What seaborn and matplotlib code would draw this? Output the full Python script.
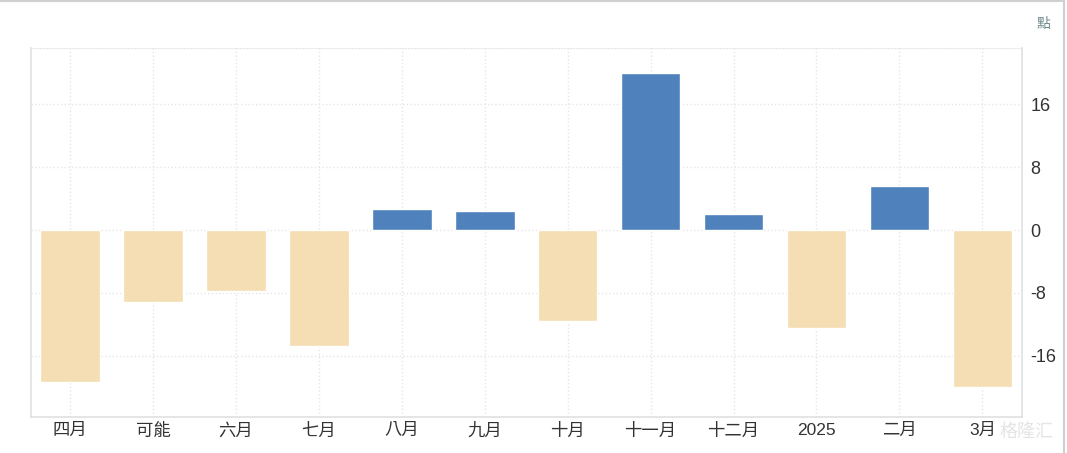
import pandas as pd
import seaborn as sns
import matplotlib.pyplot as plt
from matplotlib.lines import Line2D

# 月份標籤與數值 (點)
months = ['四月', '可能', '六月', '七月', '八月', '九月', '十月', '十一月', '十二月', '2025', '二月', '3月']
values = [-19.4, -9.1, -7.8, -14.8, 2.7, 2.4, -11.6, 20.0, 2.0, -12.5, 5.6, -20.0]
yticks = [-16, -8, 0, 8, 16]

df = pd.DataFrame({'month': months, 'value': values})
df['sign'] = ['pos' if v >= 0 else 'neg' for v in df['value']]

sns.set_style('white')
plt.rcParams['font.family'] = ['Liberation Sans', 'Noto Sans CJK TC', 'DejaVu Sans']
plt.rcParams['axes.unicode_minus'] = False

fig = plt.figure(figsize=(10.67, 4.53), dpi=100)
ax = fig.add_axes([0.029, 0.0795, 0.929, 0.815])

sns.barplot(
    data=df, x='month', y='value', hue='sign',
    palette={'pos': '#4f81bd', 'neg': '#f5deb3'},
    dodge=False, width=0.72, legend=False, saturation=1, ax=ax
)

ax.set_xlim(-0.47, len(months) - 0.52)
ax.set_ylim(-23.8, 23.2)
ax.set_yticks(yticks)
ax.yaxis.tick_right()
ax.tick_params(axis='y', length=0, pad=6, labelsize=13, labelcolor='#333333')
ax.tick_params(axis='x', length=0, pad=4, labelsize=12.5, labelcolor='#333333')
ax.set_xlabel('')
ax.set_ylabel('')

ax.grid(True, color='#e6e6e6', linestyle=':', linewidth=1)
ax.set_axisbelow(True)

for s in ['left', 'right', 'bottom']:
    ax.spines[s].set_color('#e0e0e0')
    ax.spines[s].set_linewidth(1.2)
ax.spines['top'].set_color('#e6e6e6')
ax.spines['top'].set_linestyle(':')

# 單位標籤
fig.text(0.978, 0.948, '點', fontsize=10, color='#6b8a8c', ha='center', va='center')

# 外框線 (頂部與右側)
fig.add_artist(Line2D([0, 0.997], [0.997, 0.997], color='#d0d0d0', lw=1.5, transform=fig.transFigure))
fig.add_artist(Line2D([0.997, 0.997], [0, 0.997], color='#d0d0d0', lw=1.5, transform=fig.transFigure))

# 水印
fig.text(0.962, 0.045, '格隆汇', fontsize=13, color='#e2e2e2', ha='center', va='center', alpha=0.9)

fig.savefig('out.png', dpi=100)
